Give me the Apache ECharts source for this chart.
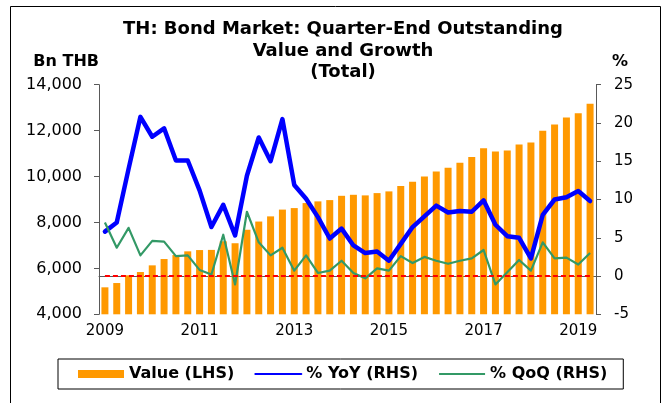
<!DOCTYPE html>
<html>
<head>
<meta charset="utf-8">
<title>TH: Bond Market: Quarter-End Outstanding Value and Growth (Total)</title>
<script src="https://cdn.jsdelivr.net/npm/echarts@6/dist/echarts.min.js"></script>
<style>
  html, body { margin: 0; padding: 0; background: #fff; }
  #chart { width: 665px; height: 403px; }
</style>
</head>
<body>
<div id="chart"></div>
<script>
// Quarter-end observations, 2009 Q1 to 2019 Q2
const quarters = [
  '2009Q1','2009Q2','2009Q3','2009Q4',
  '2010Q1','2010Q2','2010Q3','2010Q4',
  '2011Q1','2011Q2','2011Q3','2011Q4',
  '2012Q1','2012Q2','2012Q3','2012Q4',
  '2013Q1','2013Q2','2013Q3','2013Q4',
  '2014Q1','2014Q2','2014Q3','2014Q4',
  '2015Q1','2015Q2','2015Q3','2015Q4',
  '2016Q1','2016Q2','2016Q3','2016Q4',
  '2017Q1','2017Q2','2017Q3','2017Q4',
  '2018Q1','2018Q2','2018Q3','2018Q4',
  '2019Q1','2019Q2'
];

// Outstanding value, billion THB (left axis)
const outstandingValue = [
  5175, 5362, 5697, 5841,
  6132, 6407, 6581, 6742,
  6798, 6805, 7180, 7095,
  7682, 8040, 8265, 8560,
  8626, 8844, 8918, 8974,
  9161, 9205, 9179, 9279,
  9353, 9584, 9771, 10006,
  10223, 10380, 10598, 10846,
  11237, 11094, 11137, 11398,
  11485, 11990, 12269, 12573,
  12760, 13165
];

// Year-on-year growth, % (right axis)
const growthYoY = [
  5.8, 7.0, 14.0, 20.8,
  18.2, 19.3, 15.1, 15.1,
  11.2, 6.4, 9.3, 5.3,
  13.1, 18.1, 15.0, 20.5,
  11.9, 10.1, 7.7, 4.9,
  6.2, 4.0, 3.0, 3.2,
  2.0, 4.2, 6.4, 7.8,
  9.2, 8.3, 8.5, 8.4,
  9.9, 6.7, 5.2, 5.0,
  2.3, 8.0, 10.0, 10.3,
  11.1, 9.8
];

// Quarter-on-quarter growth, % (right axis)
const growthQoQ = [
  7.0, 3.7, 6.3, 2.7,
  4.6, 4.5, 2.6, 2.7,
  0.8, 0.2, 5.4, -1.1,
  8.4, 4.4, 2.7, 3.7,
  0.7, 2.7, 0.4, 0.7,
  2.0, 0.4, -0.3, 1.0,
  0.7, 2.6, 1.7, 2.5,
  2.0, 1.6, 2.0, 2.3,
  3.4, -1.1, 0.5, 2.1,
  0.7, 4.4, 2.3, 2.4,
  1.5, 3.0
];

// Axis ranges
const valueAxisRange = { min: 4000, max: 14000, step: 2000 };
const percentAxisRange = { min: -5, max: 25, step: 5 };

const FONT = 'DejaVu Sans';
const AXIS_GREY = '#595959';

const chart = echarts.init(document.getElementById('chart'), null, { renderer: 'canvas' });

chart.setOption({
  animation: false,
  backgroundColor: '#ffffff',
  title: {
    text: 'TH: Bond Market: Quarter-End Outstanding\nValue and Growth\n(Total)',
    left: 343,
    top: 19,
    padding: 0,
    textAlign: 'center',
    textStyle: {
      fontFamily: FONT,
      fontSize: 18,
      fontWeight: 'bold',
      color: '#000',
      lineHeight: 21.5
    }
  },
  legend: {
    left: 58,
    top: 359,
    padding: [7, 16, 7, 20],
    borderColor: '#000',
    borderWidth: 1,
    itemGap: 20,
    itemWidth: 46,
    itemHeight: 8,
    textStyle: { fontFamily: FONT, fontSize: 16, fontWeight: 'bold', color: '#000' },
    data: [
      { name: 'Value (LHS)', icon: 'rect' },
      // line-only keys: hide the marker that the line icon carries
      { name: '% YoY (RHS)', itemStyle: { opacity: 0 } },
      { name: '% QoQ (RHS)', itemStyle: { opacity: 0 } }
    ]
  },
  grid: { left: 99, right: 69, top: 84.7, bottom: 88.7, containLabel: false },
  xAxis: {
    type: 'category',
    data: quarters,
    boundaryGap: true,
    axisLine: { lineStyle: { color: AXIS_GREY, width: 1 } },
    axisTick: { interval: 3, length: 5, lineStyle: { color: AXIS_GREY } },
    axisLabel: {
      interval: 7,
      margin: 9,
      fontFamily: FONT,
      fontSize: 15,
      color: '#000',
      formatter: v => v.slice(0, 4)
    },
    splitLine: { show: false }
  },
  yAxis: [
    {
      type: 'value',
      position: 'left',
      min: valueAxisRange.min,
      max: valueAxisRange.max,
      interval: valueAxisRange.step,
      name: 'Bn THB',
      nameLocation: 'end',
      nameGap: 15,
      nameTextStyle: { fontFamily: FONT, fontSize: 16, fontWeight: 'bold', color: '#000', align: 'right' },
      axisLine: { show: true, lineStyle: { color: AXIS_GREY, width: 1 } },
      axisTick: { show: true, length: 5, lineStyle: { color: AXIS_GREY } },
      axisLabel: {
        margin: 17,
        fontFamily: FONT,
        fontSize: 16,
        color: '#000',
        formatter: v => v.toLocaleString('en-US')
      },
      splitLine: { show: false }
    },
    {
      type: 'value',
      position: 'right',
      min: percentAxisRange.min,
      max: percentAxisRange.max,
      interval: percentAxisRange.step,
      name: '%',
      nameLocation: 'end',
      nameGap: 15,
      nameTextStyle: { fontFamily: FONT, fontSize: 16, fontWeight: 'bold', color: '#000', align: 'left', padding: [0, 0, 0, 16] },
      axisLine: { show: true, lineStyle: { color: AXIS_GREY, width: 1 } },
      axisTick: { show: true, length: 5, lineStyle: { color: AXIS_GREY } },
      axisLabel: { margin: 18, fontFamily: FONT, fontSize: 15, color: '#000' },
      splitLine: { show: false }
    }
  ],
  series: [
    {
      name: 'Value (LHS)',
      type: 'bar',
      yAxisIndex: 0,
      data: outstandingValue,
      barWidth: 7,
      itemStyle: { color: '#FF9900' }
    },
    {
      name: '% YoY (RHS)',
      type: 'line',
      yAxisIndex: 1,
      data: growthYoY,
      symbol: 'none',
      lineStyle: { color: '#0000FF', width: 4.5, join: 'round', cap: 'round' },
      itemStyle: { color: '#0000FF' },
      z: 3,
      markLine: {
        silent: true,
        symbol: 'none',
        label: { show: false },
        lineStyle: { color: '#FF0000', width: 2, type: [5, 3] },
        data: [[
          { xAxis: quarters[0], yAxis: 0 },
          { xAxis: quarters[quarters.length - 1], yAxis: 0 }
        ]]
      }
    },
    {
      name: '% QoQ (RHS)',
      type: 'line',
      yAxisIndex: 1,
      data: growthQoQ,
      symbol: 'none',
      lineStyle: { color: '#339966', width: 2.2, join: 'round' },
      itemStyle: { color: '#339966' },
      z: 4
    }
  ],
  graphic: [
    {
      type: 'rect',
      silent: true,
      shape: { x: 10.5, y: 6.5, width: 650, height: 430 },
      style: { fill: 'none', stroke: '#000', lineWidth: 1 }
    }
  ]
});
</script>
</body>
</html>
